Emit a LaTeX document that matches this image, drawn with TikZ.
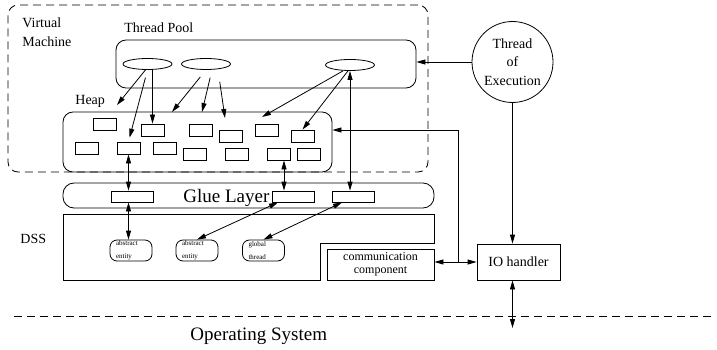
\documentclass[tikz,border=0pt]{standalone}
\usepackage{fontspec}
\setmainfont{Liberation Serif}
\usetikzlibrary{arrows.meta,calc,shapes.geometric}

\begin{document}
\begin{tikzpicture}[
  x=1pt, y=-1pt,
  line width=0.8pt,
  >={Triangle[length=9pt,width=5pt]},
  frame/.style = {draw, rectangle, rounded corners=10pt, inner sep=0pt},
  obj/.style = {draw, rectangle, minimum width=23pt, minimum height=12pt, inner sep=0pt},
  slot/.style = {draw, rectangle, minimum width=42pt, minimum height=11pt, inner sep=0pt},
  thr/.style = {draw, ellipse, minimum width=49pt, minimum height=11pt, inner sep=0pt},
  ent/.style = {draw, rectangle, rounded corners=7pt, minimum width=42pt, minimum height=21pt,
                inner sep=0pt, text width=30pt, align=left, font=\fontsize{7}{13}\selectfont},
  lbl/.style = {inner sep=0pt, anchor=base west, font=\fontsize{14}{19}\selectfont},
  big/.style = {inner sep=0pt, anchor=base west, font=\fontsize{19}{23}\selectfont},
  dashline/.style = {dash pattern=on 8pt off 5pt}
]
  \useasboundingbox (0,0) rectangle (717,350);

  % virtual machine with its thread pool and heap
  \node[frame, dashline, minimum width=420pt, minimum height=167pt] (vm) at (218,88.5) {};
  \node[lbl, align=left] at (22,47) {Virtual\\Machine};
  \node[frame, minimum width=300pt, minimum height=48pt] (pool) at (266,64) {};
  \node[lbl] at (124,33) {Thread Pool};
  \node[thr] (e1) at (147.5,64) {};
  \node[thr] (e2) at (206,64) {};
  \node[thr] (e3) at (350,65) {};
  \node[frame, minimum width=269pt, minimum height=60pt] (heap) at (197.5,142) {};
  \node[lbl] at (75,105) {Heap};
  \foreach \n/\x/\y in {r1/104.5/124, r2/152.5/130, r3/200.5/130, r4/230.5/136,
                        r5/266.5/130, r6/302.5/136, r7/86.5/148, r8/128.5/148,
                        r9/164.5/148, r10/194.5/154, r11/236.5/154, r12/278.5/154,
                        r13/308.5/154}
    \node[obj] (\n) at (\x,\y) {};

  % glue layer
  \node[frame, rounded corners=11pt, minimum width=371pt, minimum height=25pt] (glue) at (248.5,195.5) {};
  \node[big] at (183,202) {Glue Layer};
  \node[slot] (g1) at (132,196.5) {};
  \node[slot] (g2) at (293.5,196.5) {};
  \node[slot] (g3) at (353.5,196.5) {};

  % DSS
  \draw (63,214) -- (434,214) -- (434,243) -- (320,243) -- (320,280) -- (63,280) -- cycle;
  \node[lbl] at (20,243) {DSS};
  \node[ent] (ae1) at (131,250.5) {abstract\\entity};
  \node[ent] (ae2) at (197,250.5) {abstract\\entity};
  \node[ent] (ae3) at (263.5,250.5) {global\\thread};
  \node[draw, minimum width=107pt, minimum height=31pt, inner sep=0pt, align=center,
        font=\fontsize{12}{13}\selectfont] (comm) at (380.5,264.5) {communication\\component};

  \node[draw, circle, minimum size=81pt, inner sep=0pt, align=center,
        font=\fontsize{14}{18.5}\selectfont] (toe) at (512.5,62) {Thread\\of\\Execution};
  \node[draw, minimum width=83pt, minimum height=36pt, inner sep=0pt,
        font=\fontsize{14}{17}\selectfont] (io) at (518.5,262) {IO handler};

  % operating system
  \draw[dashline] (14,316) -- (713,316);
  \node[big] at (190,340) {Operating System};

  % free ends of the arrows
  \coordinate (h1) at (117,105);
  \coordinate (h4) at (172,112);
  \coordinate (h5) at (202,112);
  \coordinate (h6) at (225,118);
  \coordinate (h7) at (262,117);
  \coordinate (jn) at (458,262);
  \coordinate (os) at (512.5,328);

  % threads into the heap
  \draw[->] ([xshift=-2pt]e1.south) -- (h1);
  \draw[->, shorten <=8pt, shorten >=4pt] (e1.south) -- (r8.north);
  \draw[->] (r2.north |- e1.south) -- (r2.north);
  \draw[->, shorten <=9pt] (e2.south) -- (h4);
  \draw[->, shorten <=8pt] ([xshift=6pt]e2.south) -- (h5);
  \draw[->, shorten <=12pt] ([xshift=12pt]e2.south) -- (h6);
  \draw[->] ([xshift=-7pt]e3.south) -- (h7);
  \draw[->] ([xshift=-2pt]e3.south) -- (r6.north);

  % heap <-> glue <-> dss
  \draw[<->] (r8.south) -- (r8.south |- g1.north);
  \draw[<->] ([xshift=5.5pt]r12.south) -- ([xshift=5.5pt]r12.south |- g2.north);
  \draw[<->] (e3.south) -- (e3.south |- g3.north);
  \draw[<->] (g1.south -| r8.south) -- (ae1.north -| r8.south);
  \draw[<->] ([xshift=-15.5pt]g2.south) -- (ae2.north);
  \draw[<->] ([xshift=-11.5pt]g3.south) -- (ae3.north);

  % thread of execution and io
  \draw[->] (toe.west) -- (toe.west -| pool.east);
  \draw[->] (toe.south) -- (toe.south |- io.north);
  \draw[<->] (toe.south |- io.south) -- (os);
  \draw[->] (jn) |- ([yshift=12pt]heap.east);
  \draw[<->] (comm.east |- jn) -- (io.west |- jn);
\end{tikzpicture}
\end{document}
